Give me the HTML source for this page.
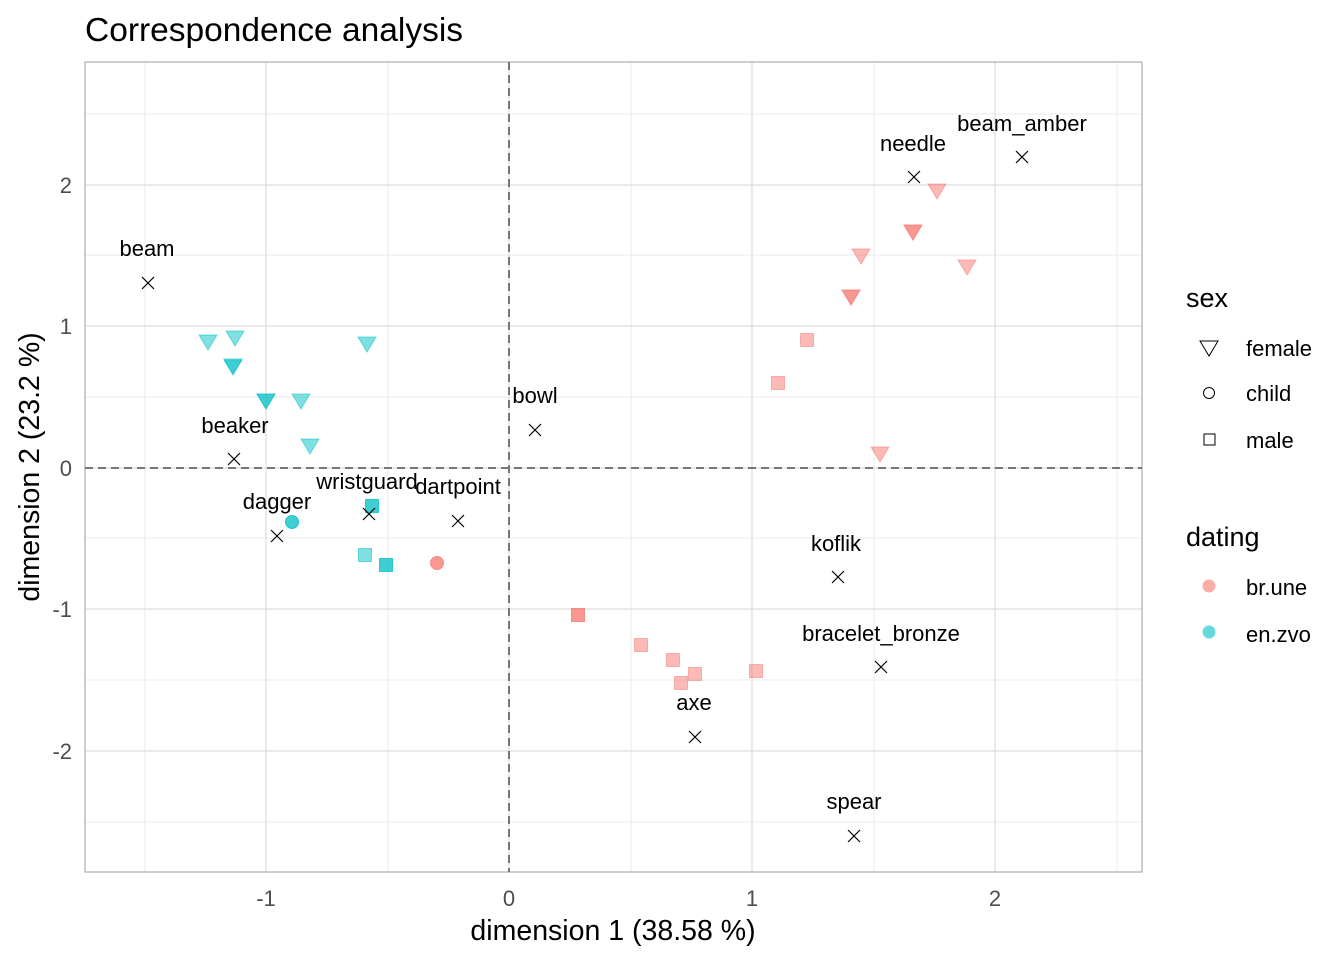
<!DOCTYPE html>
<html><head><meta charset="utf-8"><style>body{margin:0;background:#fff}svg{display:block}text{font-family:"Liberation Sans",Arial,sans-serif}</style></head><body>
<svg width="1344" height="960" viewBox="0 0 1344 960" xmlns="http://www.w3.org/2000/svg">
<defs>
<path id="tri" d="M-9,-7 L9,-7 L0,8 Z"/>
<path id="crs" d="M-6,-6 L6,6 M-6,6 L6,-6"/>
</defs>
<rect width="1344" height="960" fill="#fff"/>
<text x="85" y="41" font-size="33.5" fill="#000">Correspondence analysis</text>
<g stroke="#ebebeb" stroke-width="1">
<line x1="145" y1="62" x2="145" y2="872"/><line x1="388" y1="62" x2="388" y2="872"/><line x1="631" y1="62" x2="631" y2="872"/><line x1="874" y1="62" x2="874" y2="872"/><line x1="1117" y1="62" x2="1117" y2="872"/>
<line x1="85" y1="114" x2="1142" y2="114"/><line x1="85" y1="255" x2="1142" y2="255"/><line x1="85" y1="397" x2="1142" y2="397"/><line x1="85" y1="538" x2="1142" y2="538"/><line x1="85" y1="680" x2="1142" y2="680"/><line x1="85" y1="822" x2="1142" y2="822"/>
</g>
<g stroke="#dedede" stroke-width="1.3">
<line x1="266" y1="62" x2="266" y2="872"/><line x1="509" y1="62" x2="509" y2="872"/><line x1="752" y1="62" x2="752" y2="872"/><line x1="995" y1="62" x2="995" y2="872"/>
<line x1="85" y1="185" x2="1142" y2="185"/><line x1="85" y1="326" x2="1142" y2="326"/><line x1="85" y1="468" x2="1142" y2="468"/><line x1="85" y1="609" x2="1142" y2="609"/><line x1="85" y1="751" x2="1142" y2="751"/>
</g>
<rect x="85" y="62" width="1057" height="810" fill="none" stroke="#b3b3b3" stroke-width="1.3"/>
<g stroke="#777" stroke-width="2" stroke-dasharray="8,5">
<line x1="509" y1="62" x2="509" y2="872"/><line x1="85" y1="468" x2="1142" y2="468"/>
</g>
<g fill="#00BFC4" fill-opacity="0.5" stroke="#00BFC4" stroke-opacity="0.5">
<use href="#tri" x="208" y="342"/><use href="#tri" x="235" y="338"/><use href="#tri" x="233" y="367"/><use href="#tri" x="233" y="366"/><use href="#tri" x="266" y="401"/><use href="#tri" x="266" y="401"/><use href="#tri" x="301" y="401"/><use href="#tri" x="310" y="446"/><use href="#tri" x="367" y="344"/>
<rect x="365.5" y="499.5" width="13" height="13"/><rect x="358.5" y="548.5" width="13" height="13"/><rect x="379.5" y="558.5" width="13" height="13"/><rect x="379.5" y="558.5" width="13" height="13"/><rect x="365.5" y="499.5" width="13" height="13"/>
<circle cx="292" cy="522" r="6.5"/><circle cx="292" cy="522" r="6.5"/>
</g>
<g fill="#F8766D" fill-opacity="0.5" stroke="#F8766D" stroke-opacity="0.5">
<use href="#tri" x="937" y="191"/><use href="#tri" x="913" y="232"/><use href="#tri" x="913" y="232"/><use href="#tri" x="861" y="256"/><use href="#tri" x="851" y="297"/><use href="#tri" x="851" y="297"/><use href="#tri" x="967" y="267"/><use href="#tri" x="880" y="454"/>
<rect x="800.5" y="333.5" width="13" height="13"/><rect x="771.5" y="376.5" width="13" height="13"/><rect x="571.5" y="608.5" width="13" height="13"/><rect x="571.5" y="608.5" width="13" height="13"/><rect x="634.5" y="638.5" width="13" height="13"/><rect x="666.5" y="653.5" width="13" height="13"/><rect x="688.5" y="667.5" width="13" height="13"/><rect x="674.5" y="676.5" width="13" height="13"/><rect x="749.5" y="664.5" width="13" height="13"/>
<circle cx="437" cy="563" r="6.5"/><circle cx="437" cy="563" r="6.5"/>
</g>
<g stroke="#000" stroke-width="1.2" fill="none">
<use href="#crs" x="148" y="283"/><use href="#crs" x="234" y="459"/><use href="#crs" x="277" y="536"/><use href="#crs" x="369" y="514"/><use href="#crs" x="458" y="521"/><use href="#crs" x="535" y="430"/><use href="#crs" x="914" y="177"/><use href="#crs" x="1022" y="157"/><use href="#crs" x="838" y="577"/><use href="#crs" x="881" y="667"/><use href="#crs" x="695" y="737"/><use href="#crs" x="854" y="836"/>
</g>
<g font-size="22" fill="#000" text-anchor="middle">
<text x="147" y="256">beam</text><text x="235" y="433">beaker</text><text x="277" y="509">dagger</text><text x="367" y="489">wristguard</text><text x="458" y="494">dartpoint</text><text x="535" y="403">bowl</text><text x="913" y="151">needle</text><text x="1022" y="131">beam_amber</text><text x="836" y="551">koflik</text><text x="881" y="641">bracelet_bronze</text><text x="694" y="710">axe</text><text x="854" y="809">spear</text>
</g>
<g font-size="22" fill="#4d4d4d" text-anchor="middle">
<text x="266" y="906">-1</text><text x="509" y="906">0</text><text x="752" y="906">1</text><text x="995" y="906">2</text>
</g>
<g font-size="22" fill="#4d4d4d" text-anchor="end">
<text x="72" y="193">2</text><text x="72" y="334">1</text><text x="72" y="476">0</text><text x="72" y="617">-1</text><text x="72" y="759">-2</text>
</g>
<text x="613" y="940" font-size="28.5" text-anchor="middle">dimension 1 (38.58 %)</text>
<text transform="translate(39,467) rotate(-90)" font-size="28.5" text-anchor="middle">dimension 2 (23.2 %)</text>
<text x="1186" y="307" font-size="27">sex</text>
<use href="#tri" x="1209" y="348" fill="none" stroke="#000" stroke-width="1"/>
<circle cx="1209" cy="393" r="5.5" fill="none" stroke="#000"/>
<rect x="1204" y="434" width="11" height="11" fill="none" stroke="#000"/>
<g font-size="22"><text x="1246" y="356">female</text><text x="1246" y="401">child</text><text x="1246" y="448">male</text>
<text x="1246" y="595">br.une</text><text x="1246" y="642">en.zvo</text></g>
<text x="1186" y="546" font-size="27">dating</text>
<circle cx="1209" cy="586" r="6.5" fill="#F8766D" fill-opacity="0.6"/>
<circle cx="1209" cy="632" r="6.5" fill="#00BFC4" fill-opacity="0.6"/>
</svg>
</body></html>
